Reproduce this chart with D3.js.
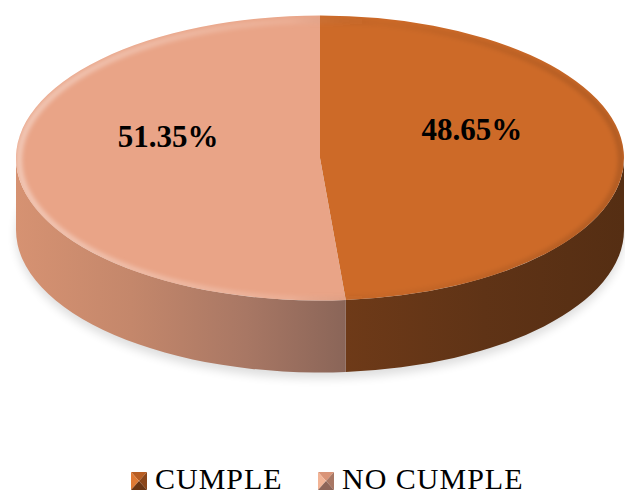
<!DOCTYPE html>
<html>
<head>
<meta charset="utf-8">
<script src="https://cdn.jsdelivr.net/npm/d3@7"></script>
<style>
  html, body { margin: 0; padding: 0; background: #ffffff; }
  svg { display: block; }
</style>
</head>
<body>
<svg id="chart" width="625" height="494"></svg>
<script>
// Share of cases that meet / do not meet the requirement
const categories = ["CUMPLE", "NO CUMPLE"];
const values = [48.65, 51.35];
const valueLabels = ["48.65%", "51.35%"];

const topColors = ["#CD6A28", "#E9A487"];

const svg = d3.select("#chart");

// Elliptical projection of the tilted disc
const cx = 320, cy = 158, rx = 304, ry = 142.5, depth = 72;
const pt = (a, dy = 0, f = 1) => [cx + f * rx * Math.sin(a), cy - f * ry * Math.cos(a) + dy];

const arcs = d3.pie().sort(null).value(d => d)(values);

const defs = svg.append("defs");

// Soft drop shadow below the disc
defs.append("filter").attr("id", "shadowBlur")
  .attr("x", "-20%").attr("y", "-20%").attr("width", "140%").attr("height", "140%")
  .append("feGaussianBlur").attr("stdDeviation", 5);
defs.append("filter").attr("id", "rimBlur")
  .attr("x", "-10%").attr("y", "-10%").attr("width", "120%").attr("height", "120%")
  .append("feGaussianBlur").attr("stdDeviation", 2);

// Side-wall shading
const sideGrads = [
  [[0, "#6E3A18"], [0.5, "#5F3316"], [1, "#552E13"]],
  [[0, "#D69272"], [0.35, "#C4876B"], [0.7, "#A87764"], [1, "#8A6558"]]
];
const sideExtent = [
  [pt(arcs[0].endAngle)[0], cx + rx],
  [cx - rx, pt(arcs[1].startAngle)[0]]
];
sideGrads.forEach((stops, i) => {
  const g = defs.append("linearGradient").attr("id", "side" + i)
    .attr("gradientUnits", "userSpaceOnUse")
    .attr("x1", sideExtent[i][0]).attr("x2", sideExtent[i][1])
    .attr("y1", 0).attr("y2", 0);
  stops.forEach(([o, c]) => g.append("stop").attr("offset", o).attr("stop-color", c));
});

// Rim bevel: light on the left, slightly darker on the right
const rimGrad = defs.append("linearGradient").attr("id", "rimGrad")
  .attr("gradientUnits", "userSpaceOnUse")
  .attr("x1", cx - rx).attr("x2", cx + rx).attr("y1", 0).attr("y2", 0);
rimGrad.append("stop").attr("offset", 0).attr("stop-color", "#ffffff").attr("stop-opacity", 0.4);
rimGrad.append("stop").attr("offset", 0.45).attr("stop-color", "#ffffff").attr("stop-opacity", 0.12);
rimGrad.append("stop").attr("offset", 0.6).attr("stop-color", "#000000").attr("stop-opacity", 0.03);
rimGrad.append("stop").attr("offset", 1).attr("stop-color", "#000000").attr("stop-opacity", 0.14);

defs.append("clipPath").attr("id", "topClip")
  .append("ellipse").attr("cx", cx).attr("cy", cy).attr("rx", rx).attr("ry", ry);

// Shadow
svg.append("ellipse")
  .attr("cx", cx).attr("cy", cy + depth + 5)
  .attr("rx", rx).attr("ry", ry + 1)
  .attr("fill", "#000").attr("opacity", 0.13)
  .attr("filter", "url(#shadowBlur)");

// Side walls (front half only)
function sidePath(a0, a1) {
  const s = Math.max(a0, Math.PI / 2), e = Math.min(a1, 3 * Math.PI / 2);
  if (e <= s) return null;
  const p0 = pt(s), p1 = pt(e), q1 = pt(e, depth), q0 = pt(s, depth);
  return `M${p0}A${rx},${ry} 0 0 1 ${p1}L${q1}A${rx},${ry} 0 0 0 ${q0}Z`;
}
svg.append("g").selectAll("path")
  .data(arcs)
  .join("path")
  .attr("d", d => sidePath(d.startAngle, d.endAngle))
  .attr("fill", (d, i) => `url(#side${i})`);

// Top faces
function topPath(a0, a1) {
  const p0 = pt(a0), p1 = pt(a1);
  const large = (a1 - a0) > Math.PI ? 1 : 0;
  return `M${cx},${cy}L${p0}A${rx},${ry} 0 ${large} 1 ${p1}Z`;
}
svg.append("g").selectAll("path")
  .data(arcs)
  .join("path")
  .attr("d", d => topPath(d.startAngle, d.endAngle))
  .attr("fill", (d, i) => topColors[i]);

// Bevel highlight along the top rim
svg.append("g").attr("clip-path", "url(#topClip)")
  .append("ellipse")
  .attr("cx", cx).attr("cy", cy + 2).attr("rx", rx - 3).attr("ry", ry - 3)
  .attr("fill", "none")
  .attr("stroke", "url(#rimGrad)")
  .attr("stroke-width", 6)
  .attr("filter", "url(#rimBlur)");

// Value labels
svg.append("g").selectAll("text")
  .data(arcs)
  .join("text")
  .attr("x", d => pt((d.startAngle + d.endAngle) / 2, 0, 0.5)[0])
  .attr("y", d => pt((d.startAngle + d.endAngle) / 2, 0, 0.5)[1] - 25)
  .attr("text-anchor", "middle")
  .attr("dominant-baseline", "central")
  .attr("font-family", "'Liberation Serif', 'Times New Roman', serif")
  .attr("font-weight", "bold")
  .attr("font-size", 31)
  .attr("fill", "#000")
  .text((d, i) => valueLabels[i]);

// Legend with bevelled swatches
const legendX = [131, 318];
const legend = svg.append("g").selectAll("g")
  .data(categories)
  .join("g")
  .attr("transform", (d, i) => `translate(${legendX[i]},472)`);

const sw = 16, sh = 18;
const facetShades = [
  ["#B85D22", "#E07A34", "#8A4519", "#6A3513"],
  ["#D99478", "#F2B496", "#A87764", "#8E6558"]
];
legend.each(function (d, i) {
  const g = d3.select(this);
  const c = [sw / 2, sh / 2];
  const shades = facetShades[i];
  const facets = [
    [[0, 0], [sw, 0], c],
    [[0, 0], [0, sh], c],
    [[sw, 0], [sw, sh], c],
    [[0, sh], [sw, sh], c]
  ];
  facets.forEach((f, k) => {
    g.append("path").attr("d", "M" + f.join("L") + "Z").attr("fill", shades[k]);
  });
});
legend.append("text")
  .attr("x", 24).attr("y", 17)
  .attr("font-family", "'Liberation Serif', 'Times New Roman', serif")
  .attr("font-size", 30)
  .attr("letter-spacing", 1)
  .attr("fill", "#000")
  .text(d => d);
</script>
</body>
</html>
